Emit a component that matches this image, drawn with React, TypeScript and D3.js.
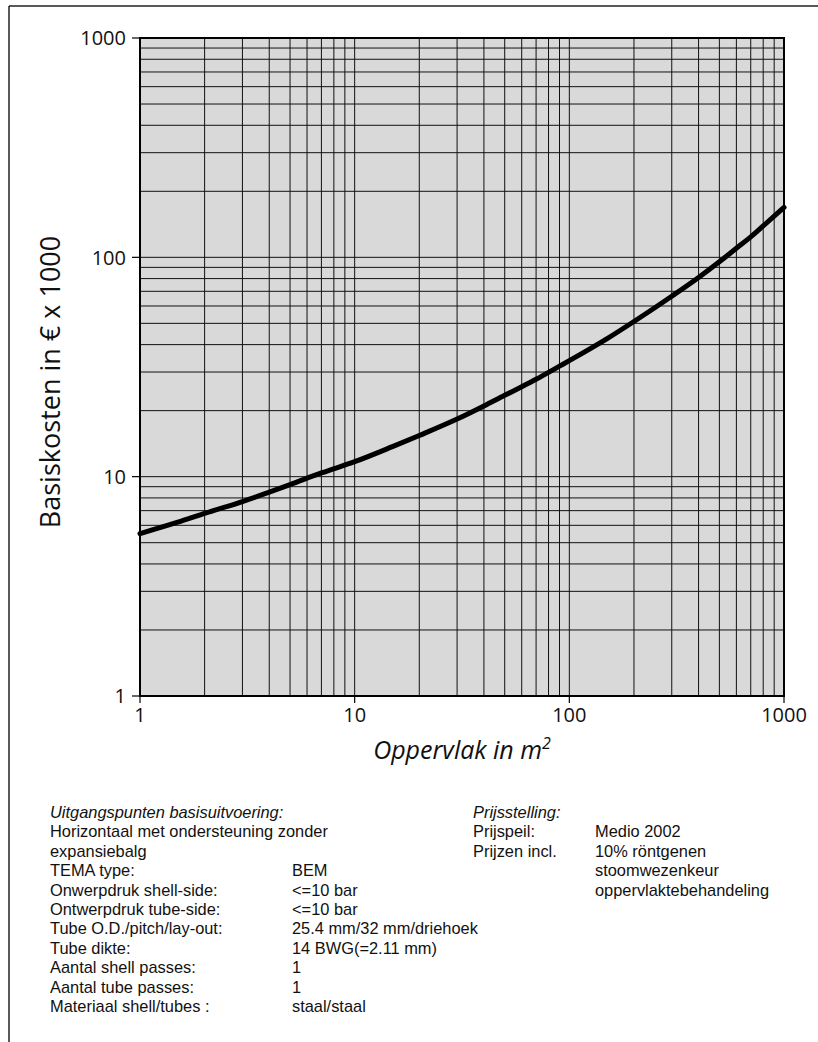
import React from "react";
import * as d3 from "d3";

// Data
const area = [1, 1.5, 2, 3, 4, 5, 7, 10, 15, 20, 30, 40, 50, 60, 70, 80, 90, 100, 150, 200, 300, 400, 500, 600, 700, 800, 900, 1000];
const cost = [5.5, 6.2, 6.8, 7.7, 8.5, 9.2, 10.4, 11.7, 13.7, 15.4, 18.3, 21.0, 23.5, 25.7, 27.8, 29.9, 31.9, 33.8, 42.6, 51, 66.5, 81, 95.5, 110, 124, 139, 154, 169];
const xTicks = [1, 10, 100, 1000];
const yTicks = [1, 10, 100, 1000];
const xTickLabels = ["1", "10", "100", "1000"];
const yTickLabels = ["1", "10", "100", "1000"];

const leftLabels = [
  "Uitgangspunten basisuitvoering:",
  "Horizontaal met ondersteuning zonder",
  "expansiebalg",
  "TEMA type:",
  "Onwerpdruk shell-side:",
  "Ontwerpdruk tube-side:",
  "Tube O.D./pitch/lay-out:",
  "Tube dikte:",
  "Aantal shell passes:",
  "Aantal tube passes:",
  "Materiaal shell/tubes :",
];
const leftValues = ["", "", "", "BEM", "<=10 bar", "<=10 bar", "25.4 mm/32 mm/driehoek", "14 BWG(=2.11 mm)", "1", "1", "staal/staal"];
const rightLabels = ["Prijsstelling:", "Prijspeil:", "Prijzen incl.", "", ""];
const rightValues = ["", "Medio 2002", "10% röntgenen", "stoomwezenkeur", "oppervlaktebehandeling"];

const FONT = "'Open Sans', 'DejaVu Sans', sans-serif";
const NOTE_FONT = "'Liberation Sans', Arial, sans-serif";

export default function App() {
  const W = 818, H = 1042;
  const L = 140, R = 784, T = 38, B = 696;
  const x = d3.scaleLog().domain([1, 1000]).range([L, R]);
  const y = d3.scaleLog().domain([1, 1000]).range([B, T]);

  const grid: number[] = [];
  [1, 10, 100].forEach((d) => {
    for (let k = 1; k <= 9; k++) grid.push(d * k);
  });
  grid.push(1000);

  const line = d3
    .line<number>()
    .x((_, i) => x(area[i]))
    .y((d) => y(d))
    .curve(d3.curveMonotoneX);

  const lineH = 19.4;
  const base = 818;
  const noteSize = 16.4;

  return (
    <svg width={W} height={H} style={{ position: "absolute", left: 0, top: 0, display: "block", background: "#fff" }} fontFamily={FONT}>
      {/* outer frame */}
      <line x1={9} y1={6} x2={W} y2={6} stroke="#222" strokeWidth={1.5} />
      <line x1={9} y1={6} x2={9} y2={H} stroke="#222" strokeWidth={1.5} />

      {/* plot background */}
      <rect x={L} y={T} width={R - L} height={B - T} fill="#d9d9d9" />

      {/* grid */}
      {grid.map((v) => (
        <line key={"gx" + v} x1={x(v)} x2={x(v)} y1={T} y2={B} stroke="#111" strokeWidth={1} />
      ))}
      {grid.map((v) => (
        <line key={"gy" + v} x1={L} x2={R} y1={y(v)} y2={y(v)} stroke="#111" strokeWidth={1} />
      ))}

      {/* frame */}
      <rect x={L} y={T} width={R - L} height={B - T} fill="none" stroke="#000" strokeWidth={2} />

      {/* ticks */}
      {yTicks.map((v, i) => (
        <g key={"yt" + v}>
          <line x1={L - 8} x2={L} y1={y(v)} y2={y(v)} stroke="#000" strokeWidth={1.2} />
          <text x={126} y={y(v)} dy="0.36em" textAnchor="end" fontSize={20} fill="#111">
            {yTickLabels[i]}
          </text>
        </g>
      ))}
      {xTicks.map((v, i) => (
        <g key={"xt" + v}>
          <line x1={x(v)} x2={x(v)} y1={B} y2={B + 7} stroke="#000" strokeWidth={1.2} />
          <text x={x(v)} y={722} textAnchor="middle" fontSize={20} fill="#111">
            {xTickLabels[i]}
          </text>
        </g>
      ))}

      {/* curve */}
      <path d={line(cost) || ""} fill="none" stroke="#000" strokeWidth={5} strokeLinejoin="round" strokeLinecap="round" />

      {/* axis titles */}
      <text transform="translate(60,382) rotate(-90)" textAnchor="middle" fontSize={27} fill="#111">
        Basiskosten in € x 1000
      </text>
      <text x={462} y={759} textAnchor="middle" fontSize={25} fontStyle="italic" fill="#111">
        Oppervlak in m
        <tspan fontSize={16} dy={-10}>2</tspan>
      </text>

      {/* bottom notes */}
      <g fontFamily={NOTE_FONT} fontSize={noteSize} fill="#111">
        {leftLabels.map((t, i) => (
          <text key={"ll" + i} x={50} y={base + i * lineH} fontStyle={i === 0 ? "italic" : "normal"}>
            {t}
          </text>
        ))}
        {leftValues.map((t, i) =>
          t ? (
            <text key={"lv" + i} x={292} y={base + i * lineH}>
              {t}
            </text>
          ) : null
        )}
        {rightLabels.map((t, i) =>
          t ? (
            <text key={"rl" + i} x={473} y={base + i * lineH} fontStyle={i === 0 ? "italic" : "normal"}>
              {t}
            </text>
          ) : null
        )}
        {rightValues.map((t, i) =>
          t ? (
            <text key={"rv" + i} x={595} y={base + i * lineH}>
              {t}
            </text>
          ) : null
        )}
      </g>
    </svg>
  );
}
